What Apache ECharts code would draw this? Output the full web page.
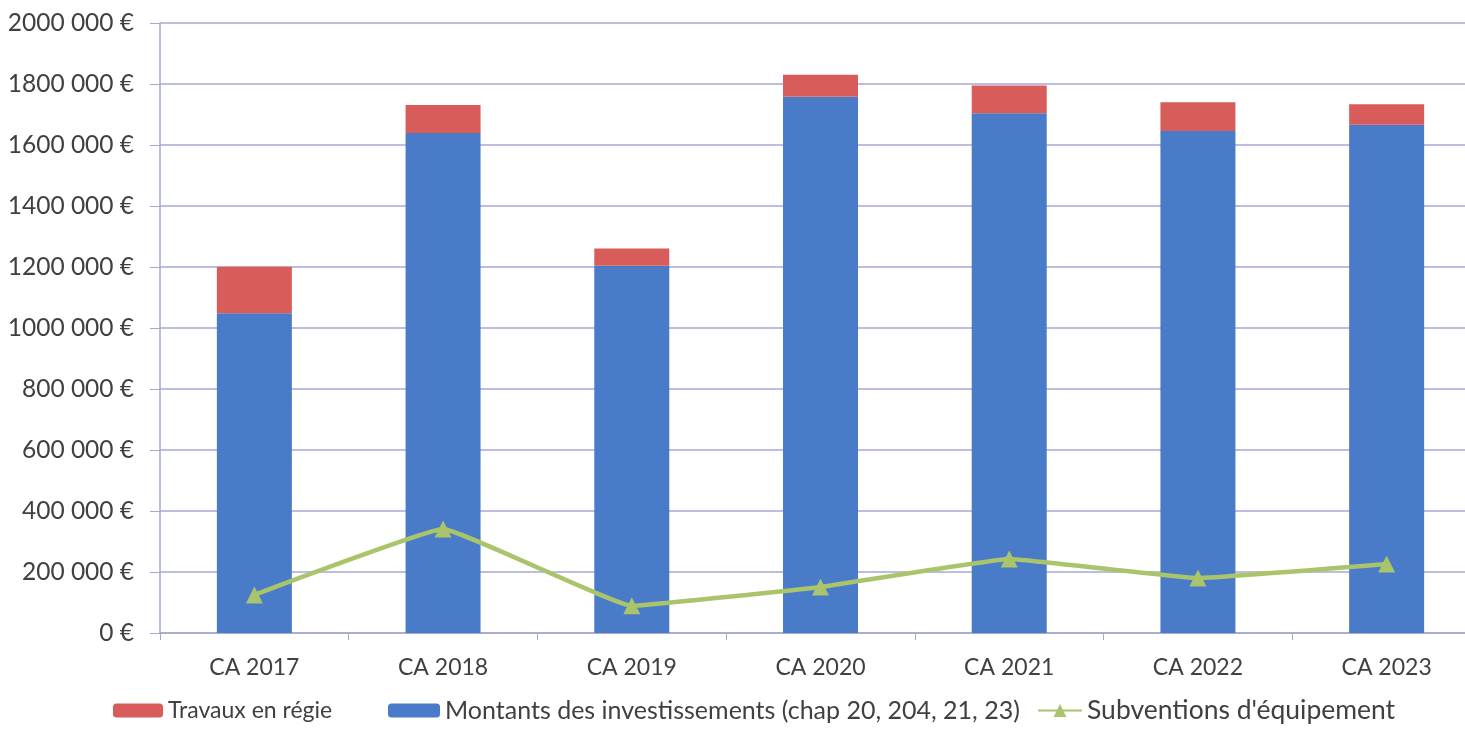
<!DOCTYPE html>
<html>
<head>
<meta charset="utf-8">
<script src="https://cdn.jsdelivr.net/npm/echarts@6/dist/echarts.min.js"></script>
<style>
html,body{margin:0;padding:0;background:#fff;}
#c{width:1465px;height:736px;}
</style>
</head>
<body>
<div id="c"></div>
<script>
const categories = ['CA 2017','CA 2018','CA 2019','CA 2020','CA 2021','CA 2022','CA 2023'];
const montants = [1048000, 1639000, 1204000, 1758000, 1704000, 1646000, 1666000];
const travaux = [153000, 92000, 57000, 72000, 91000, 94000, 68000];
const subventions = [125000, 341000, 89000, 151000, 243000, 180000, 226000];
const seriesNames = ['Travaux en régie', 'Montants des investissements (chap 20, 204, 21, 23)', "Subventions d'équipement"];

function fmt(v){
  if (v >= 1000) {
    const k = Math.floor(v/1000), r = v % 1000;
    return k + ' ' + String(r).padStart(3,'0') + ' €';
  }
  return v + ' €';
}

const FONT = 'Lato';
const chart = echarts.init(document.getElementById('c'), null, {renderer:'canvas'});
function lt(size){ return {fontFamily: FONT, fontSize: size, color: '#404040'}; }
chart.setOption({
  animation: false,
  backgroundColor: '#ffffff',
  grid: {left: 160, top: 23, width: 1321, height: 610, containLabel: false, outerBoundsMode: 'none'},
  legend: [
    {data:[seriesNames[0]], left: 113, top: 699, itemWidth: 50, itemHeight: 14, itemGap: 0, textStyle: lt(23), padding: 0},
    {data:[seriesNames[1]], left: 388, top: 698, itemWidth: 52, itemHeight: 14, itemGap: 0, textStyle: lt(25), padding: 0},
    {data:[seriesNames[2]], left: 1037, top: 697, itemWidth: 44, itemHeight: 16, itemGap: 0, textStyle: lt(26.5), padding: 0}
  ],
  xAxis: {
    type: 'category',
    data: categories,
    axisLine: {lineStyle: {color: '#a4a8cc', width: 1.5}},
    axisTick: {show: true, length: 7, lineStyle: {color: '#a4a8cc'}},
    axisLabel: {fontFamily: FONT, fontSize: 23, color: '#404040', margin: 23}
  },
  yAxis: {
    type: 'value',
    min: 0, max: 2000000, interval: 200000,
    axisLine: {show: true, lineStyle: {color: '#a4a8cc', width: 1.5}},
    axisTick: {show: true, length: 10, lineStyle: {color: '#a4a8cc'}},
    splitLine: {lineStyle: {color: '#a4a8d4', width: 1.5}},
    axisLabel: {fontFamily: FONT, fontSize: 24.5, color: '#404040', margin: 26, formatter: fmt}
  },
  series: [
    {name: seriesNames[1], type: 'bar', stack: 'a', data: montants, barWidth: 75, itemStyle: {color: '#4a7bc9'}},
    {name: seriesNames[0], type: 'bar', stack: 'a', data: travaux, barWidth: 75, itemStyle: {color: '#d75c5a'}},
    {name: seriesNames[2], type: 'line', data: subventions, smooth: 0.08,
     symbol: 'triangle', symbolSize: 17,
     lineStyle: {color: '#a9c46a', width: 4.5},
     itemStyle: {color: '#a9c46a'}}
  ]
});
</script>
</body>
</html>
